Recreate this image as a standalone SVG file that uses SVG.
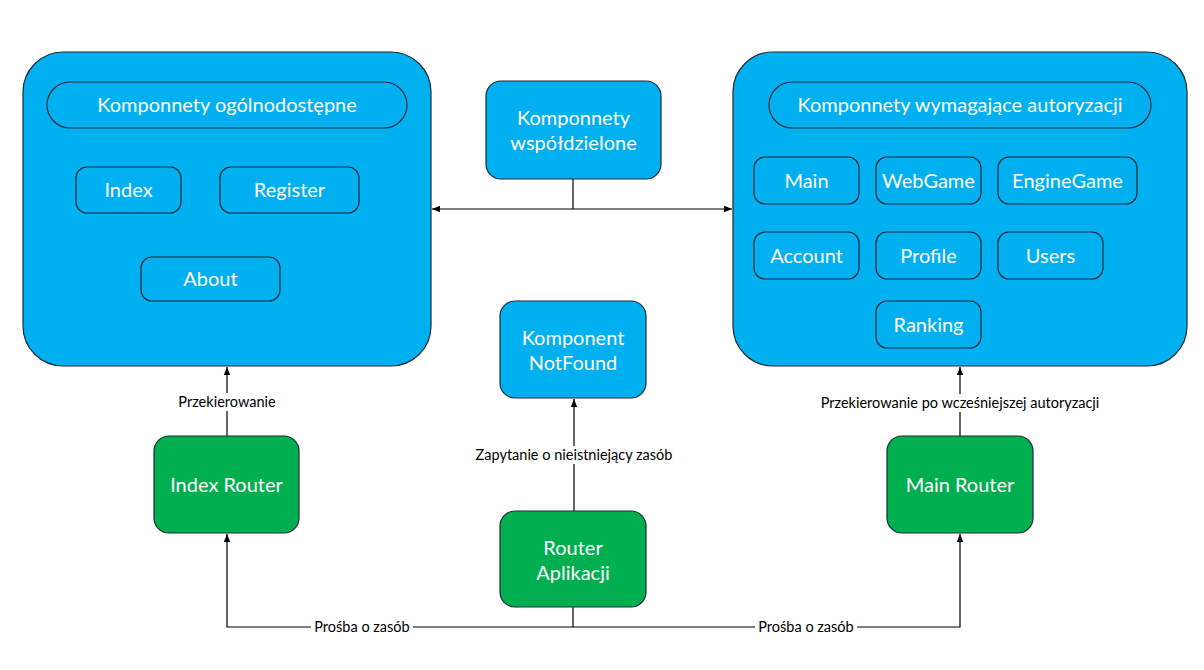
<svg xmlns="http://www.w3.org/2000/svg" width="1204" height="670" viewBox="0 0 1204 670">
<defs>
<style>
.blue{fill:#00B0F0;stroke:#1c2a36;stroke-width:1.2}
.green{fill:#00B050;stroke:#1c2a36;stroke-width:1.2}
.inner{fill:#00B0F0;stroke:#1c2a36;stroke-width:1.2}
.t{font-family:Lato,"Open Sans",sans-serif;font-size:20px;fill:#ffffff;text-anchor:middle}
.lbl{font-family:Lato,"Open Sans",sans-serif;font-size:14.5px;fill:#000000;text-anchor:middle}
.ln{fill:none;stroke:#000000;stroke-width:1.2}
.bg{fill:#ffffff}
</style>
<marker id="ah" viewBox="0 0 10 10" refX="10" refY="5" markerWidth="8" markerHeight="8" markerUnits="userSpaceOnUse" orient="auto-start-reverse">
<path d="M0,1 L10,5 L0,9 Z" fill="#000"/>
</marker>
</defs>
<rect width="1204" height="670" fill="#ffffff"/>

<g id="connectors">
<path class="ln" d="M573,179 V209"/>
<path class="ln" d="M432,209 H732" marker-start="url(#ah)" marker-end="url(#ah)"/>
<path class="ln" d="M227,436 V367" marker-end="url(#ah)"/>
<path class="ln" d="M574,511 V399" marker-end="url(#ah)"/>
<path class="ln" d="M960,436 V367" marker-end="url(#ah)"/>
<path class="ln" d="M573,607 V627"/>
<path class="ln" d="M573,627 H227 V534" marker-end="url(#ah)"/>
<path class="ln" d="M573,627 H960 V534" marker-end="url(#ah)"/>
<g id="label-przekierowanie">
<rect class="bg" x="174" y="393" width="106" height="18"/>
<text class="lbl" x="227" y="407">Przekierowanie</text>
</g>
<g id="label-zapytanie">
<rect class="bg" x="470" y="446" width="208" height="18"/>
<text class="lbl" x="574" y="460">Zapytanie o nieistniejący zasób</text>
</g>
<g id="label-przekierowanie-auth">
<rect class="bg" x="814" y="394" width="292" height="18"/>
<text class="lbl" x="960" y="408">Przekierowanie po wcześniejszej autoryzacji</text>
</g>
<g id="label-prosba-1">
<rect class="bg" x="311" y="618" width="102" height="18"/>
<text class="lbl" x="362" y="632">Prośba o zasób</text>
</g>
<g id="label-prosba-2">
<rect class="bg" x="755" y="618" width="102" height="18"/>
<text class="lbl" x="806" y="632">Prośba o zasób</text>
</g>
</g>

<g id="public-components">
<rect class="blue" x="23" y="52" width="408" height="314" rx="40"/>
<g id="public-title">
<rect class="inner" x="47" y="82" width="360" height="46" rx="23"/>
<text class="t" x="227" y="112">Komponnety ogólnodostępne</text>
</g>
<g id="index">
<rect class="inner" x="76" y="167" width="105" height="46" rx="11"/>
<text class="t" x="128.5" y="197">Index</text>
</g>
<g id="register">
<rect class="inner" x="220" y="167" width="139" height="46" rx="11"/>
<text class="t" x="289.5" y="197">Register</text>
</g>
<g id="about">
<rect class="inner" x="141" y="257" width="139" height="44" rx="11"/>
<text class="t" x="210.5" y="286">About</text>
</g>
</g>

<g id="shared-components">
<rect class="blue" x="486" y="81" width="175" height="98" rx="15"/>
<text class="t" x="573.5" y="125">Komponnety</text>
<text class="t" x="573.5" y="150">współdzielone</text>
</g>

<g id="auth-components">
<rect class="blue" x="733" y="52" width="454" height="314" rx="40"/>
<g id="auth-title">
<rect class="inner" x="769" y="82" width="382" height="46" rx="23"/>
<text class="t" x="960" y="112">Komponnety wymagające autoryzacji</text>
</g>
<g id="main">
<rect class="inner" x="754" y="157" width="105" height="47" rx="11"/>
<text class="t" x="806.5" y="188">Main</text>
</g>
<g id="webgame">
<rect class="inner" x="876" y="157" width="105" height="47" rx="11"/>
<text class="t" x="928.5" y="188">WebGame</text>
</g>
<g id="enginegame">
<rect class="inner" x="998" y="157" width="139" height="47" rx="11"/>
<text class="t" x="1067.5" y="188">EngineGame</text>
</g>
<g id="account">
<rect class="inner" x="754" y="232" width="105" height="47" rx="11"/>
<text class="t" x="806.5" y="263">Account</text>
</g>
<g id="profile">
<rect class="inner" x="876" y="232" width="105" height="47" rx="11"/>
<text class="t" x="928.5" y="263">Profile</text>
</g>
<g id="users">
<rect class="inner" x="998" y="232" width="105" height="47" rx="11"/>
<text class="t" x="1050.5" y="263">Users</text>
</g>
<g id="ranking">
<rect class="inner" x="876" y="301" width="105" height="47" rx="11"/>
<text class="t" x="928.5" y="332">Ranking</text>
</g>
</g>

<g id="notfound">
<rect class="blue" x="500" y="301" width="146" height="97" rx="15"/>
<text class="t" x="573" y="345">Komponent</text>
<text class="t" x="573" y="370">NotFound</text>
</g>

<g id="index-router">
<rect class="green" x="154" y="436" width="145" height="97" rx="15"/>
<text class="t" x="226.5" y="492">Index Router</text>
</g>

<g id="main-router">
<rect class="green" x="887" y="436" width="146" height="97" rx="15"/>
<text class="t" x="960" y="492">Main Router</text>
</g>

<g id="app-router">
<rect class="green" x="500" y="511" width="146" height="96" rx="15"/>
<text class="t" x="573" y="555">Router</text>
<text class="t" x="573" y="580">Aplikacji</text>
</g>
</svg>
